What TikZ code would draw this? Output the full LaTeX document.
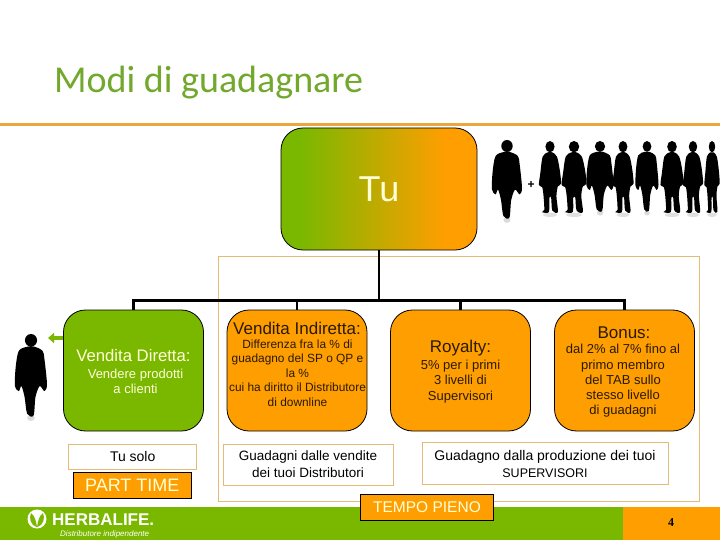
\documentclass[tikz,border=0pt]{standalone}
\usepackage{fontspec}
\setmainfont{Liberation Sans}
\newfontfamily\titlefont{Carlito}
\newfontfamily\numfont{Liberation Serif}
\usetikzlibrary{arrows.meta}
\definecolor{hlgreen}{HTML}{7AB800}
\definecolor{hltitle}{HTML}{72A82C}
\definecolor{hlorange}{HTML}{FF9E00}
\definecolor{hltan}{HTML}{E3BC78}
\definecolor{hlrule}{HTML}{E8A83C}
\definecolor{hlcream}{HTML}{FFFFD8}
\definecolor{hlink}{HTML}{2A1A00}
\pgfdeclarehorizontalshading{tushade}{100bp}{color(0bp)=(hlgreen); color(30bp)=(hlgreen); color(67bp)=(hlorange); color(100bp)=(hlorange)}
\newcommand{\fsz}[1]{\fontsize{#1}{#1}\selectfont}
\tikzset{
  x=1pt,y=-1pt,
  rbox/.style={draw=black,line width=.8pt,rounded corners=22pt,inner sep=0pt,minimum width=140pt,minimum height=121pt},
  tanbox/.style={draw=hltan,line width=1pt,fill=white,inner sep=0pt},
  tagbox/.style={draw=black,line width=1pt,fill=hlorange,inner sep=0pt,text=hlcream},
  link/.style={line width=2.6pt,draw=black},
  head/.style={font=\fsz{17},inner sep=0pt,text=hlink},
  body/.style={font=\fontsize{13}{15.2}\selectfont,inner sep=0pt,align=center,text=hlink},
  capt/.style={inner sep=0pt,align=center,text=black},
  mansil/.pic={
    \fill[black!14] (0,1.0) ellipse[x radius=.12,y radius=.035];
    \fill[black] (0,.075) ellipse[x radius=.19,y radius=.075];
    \fill[black] plot[smooth cycle,tension=.5] coordinates {(-.1,.15) (-.38,.2) (-.48,.4) (-.5,.62) (-.38,.68) (-.3,.62) (-.2,.75) (-.12,.95) (.08,.97) (.14,.75) (.27,.62) (.42,.68) (.5,.6) (.42,.3) (.36,.2) (.1,.15)};
  },
  womansil/.pic={
    \fill[black!12] (0,1.04) ellipse[x radius=.3,y radius=.03];
    \fill[black] (0,.08) ellipse[x radius=.2,y radius=.08];
    \fill[black] plot[smooth cycle,tension=.5] coordinates {(-.1,.16) (-.32,.22) (-.42,.45) (-.48,.62) (-.34,.65) (-.28,.78) (-.25,.97) (-.36,1.0) (-.05,1.0) (-.03,.8) (.05,.8) (.1,.98) (.34,1.0) (.28,.78) (.34,.64) (.48,.6) (.42,.4) (.3,.22) (.1,.16)};
  }
}
\begin{document}
\begin{tikzpicture}
\useasboundingbox (0,0) rectangle (720,540);
\fill[white] (0,0) rectangle (720,540);
% title and rule
\node[anchor=base west,inner sep=0pt,text=hltitle,font=\titlefont\fsz{38}] (title) at (54,93) {Modi di guadagnare};
\draw[hlrule,line width=3pt] (0,125) -- (720,125);
% frame
\node[draw=hltan,line width=1pt,inner sep=0pt,minimum width=481pt,minimum height=245pt] (frame) at (459,378.5) {};
% footer
\fill[hlgreen] (0,507) rectangle (623,540);
\fill[hlorange] (623,507) rectangle (720,540);
\node[font=\numfont\bfseries\fsz{12},inner sep=0pt] (pageno) at (671,523) {4};
% logo
\fill[white] (37,519) circle[radius=9.5];
\fill[hlgreen] (37,527) .. controls (30,525) and (29,518) .. (31,513) .. controls (35,516) and (36,521) .. (37,527)
 .. controls (38,521) and (39,516) .. (43,513) .. controls (45,518) and (44,525) .. (37,527);
\node[anchor=base west,inner sep=0pt,text=white,font=\bfseries\fsz{17}] (logo) at (52,525) {HERBALIFE.};
\node[anchor=base west,inner sep=0pt,text=white,font=\itshape\fsz{8}] (logosub) at (60,536) {Distributore indipendente};
% main box
\node[rbox,minimum width=196pt,minimum height=122pt,shade,shading=tushade,text=hlcream,font=\fsz{36}] (tu) at (379,189) {Tu};
% boxes
\node[rbox,fill=hlgreen] (diretta) at (133.5,370.5) {};
\node[rbox,fill=hlorange] (indiretta) at (297,370.5) {};
\node[rbox,fill=hlorange] (royalty) at (460.5,370.5) {};
\node[rbox,fill=hlorange] (bonus) at (624.5,370.5) {};
% connectors
\coordinate (bus) at (379,301);
\draw[link] (tu.south) -- (bus);
\draw[link] (diretta.north) -- ++(0,-9) coordinate (busl) -| (bonus.north);
\draw[link] (indiretta.north) -- (indiretta.north |- bus);
\draw[link] (royalty.north) -- (royalty.north |- bus);
% box texts
\node[font=\fsz{16.7},inner sep=0pt,text=hlcream] (t1) at (133.5,356) {Vendita Diretta:};
\node[body,text=hlcream] (t1b) at (135.5,381) {Vendere prodotti\\a clienti};
\node[head] (t2) at (297,328) {Vendita Indiretta:};
\node[body,font=\fontsize{11.9}{14.6}\selectfont] (t2b) at (297.5,373) {Differenza fra la \% di\\guadagno del SP o QP e\\la \%\\cui ha diritto il Distributore\\di downline};
\node[head] (t3) at (460.5,348) {Royalty:};
\node[body] (t3b) at (460.5,381.5) {5\% per i primi\\3 livelli di\\Supervisori};
\node[head] (t4) at (624,333) {Bonus:};
\node[body] (t4b) at (623,381) {dal 2\% al 7\% fino al\\primo membro\\del TAB sullo\\stesso livello\\di guadagni};
% lower boxes
\node[tanbox,minimum width=127.5pt,minimum height=25pt,font=\fsz{14}] (solo) at (132.7,456.5) {Tu solo};
\node[tagbox,minimum width=117.5pt,minimum height=25.5pt,font=\fsz{18}] (part) at (132.3,485.7) {PART TIME};
\node[tanbox,minimum width=170pt,minimum height=41pt,align=center,font=\fontsize{13.5}{17}\selectfont] (guad) at (308,464.5) {Guadagni dalle vendite\\dei tuoi Distributori};
\node[tanbox,minimum width=246pt,minimum height=42pt,align=center,font=\fontsize{14}{17}\selectfont] (prod) at (545,463.5) {Guadagno dalla produzione dei tuoi\\{\fsz{12.5}SUPERVISORI}};
\node[tagbox,minimum width=133pt,minimum height=26pt,font=\fsz{15.5}] (tempo) at (427,507.5) {TEMPO PIENO};
% silhouettes
\pic[xscale=32,yscale=84] at (31,334) {mansil};
\coordinate (armtip) at (48,338);
\draw[hlgreen,line width=3.5pt,-{Triangle[width=10pt,length=6pt]}] (diretta.west |- armtip) -- (armtip);
\pic[xscale=30,yscale=80] at (507,140) {mansil};
\node[font=\bfseries\fsz{12},inner sep=0pt] (plus) at (531,185) {+};
\pic[xscale=23,yscale=71] at (550,141) {womansil};
\pic[xscale=26,yscale=71] at (574,141) {womansil};
\pic[xscale=27,yscale=72] at (600,141) {mansil};
\pic[xscale=22,yscale=71] at (623,141) {womansil};
\pic[xscale=23,yscale=72] at (647,141) {mansil};
\pic[xscale=24,yscale=71] at (672,141) {womansil};
\pic[xscale=21,yscale=71] at (693,141) {womansil};
\pic[xscale=16,yscale=71] at (712,141) {womansil};
\end{tikzpicture}
\end{document}
